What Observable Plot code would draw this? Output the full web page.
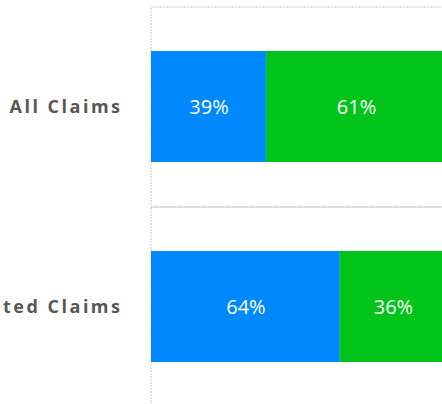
<!DOCTYPE html>
<html><head><meta charset="utf-8">
<script src="https://cdn.jsdelivr.net/npm/d3@7"></script>
<script src="https://cdn.jsdelivr.net/npm/@observablehq/plot@0.6"></script>
<style>
html,body{margin:0;padding:0;overflow:hidden;background:#fff;width:442px;height:404px}
#chart svg{display:block;overflow:hidden}
</style></head><body><div id="chart"></div>
<script>
const categories = ["All Claims", "Litigated Claims"];
const series = ["Series 1", "Series 2"];
const allClaims = [0.39, 0.61];
const litigatedClaims = [0.64, 0.36];
const seriesColors = ["#0088FF", "#00C41A"];

const values = [allClaims, litigatedClaims];
const rows = [];
categories.forEach((c, i) => series.forEach((s, j) => rows.push({category: c, series: s, value: values[i][j]})));

const chart = Plot.plot({
  width: 442,
  height: 404,
  marginLeft: 151,
  marginRight: 0,
  marginTop: 7,
  marginBottom: 0,
  style: {fontFamily: "'Open Sans', sans-serif", background: "#fff"},
  x: {domain: [0, 1], range: [151, 446], axis: null},
  y: {domain: categories, range: [7, 407], padding: 0, axis: null},
  color: {domain: series, range: seriesColors},
  marks: [
    Plot.barX(categories, {y: d => d, x1: 0, x2: 1, fill: "none", stroke: "#c8c8c8", strokeWidth: 1, strokeDasharray: "2,1"}),
    Plot.barX(rows, {x: "value", y: "category", fill: "series", insetTop: 44, insetBottom: 45}),
    Plot.text(rows, Plot.stackX({x: "value", y: "category", text: d => Math.round(d.value * 100) + "%", fill: "#ffffff", fontSize: 20})),
    Plot.text(categories, {x: 0, y: d => d, text: d => d, dx: -29, textAnchor: "end", fontSize: 18, fontWeight: "bold", fill: "#595653", ariaLabel: "category labels"})
  ]
});
d3.select(chart).selectAll("text").filter(function () { return categories.includes(this.textContent); })
  .style("letter-spacing", "2.5px");
document.getElementById("chart").appendChild(chart);
</script>
</body></html>
